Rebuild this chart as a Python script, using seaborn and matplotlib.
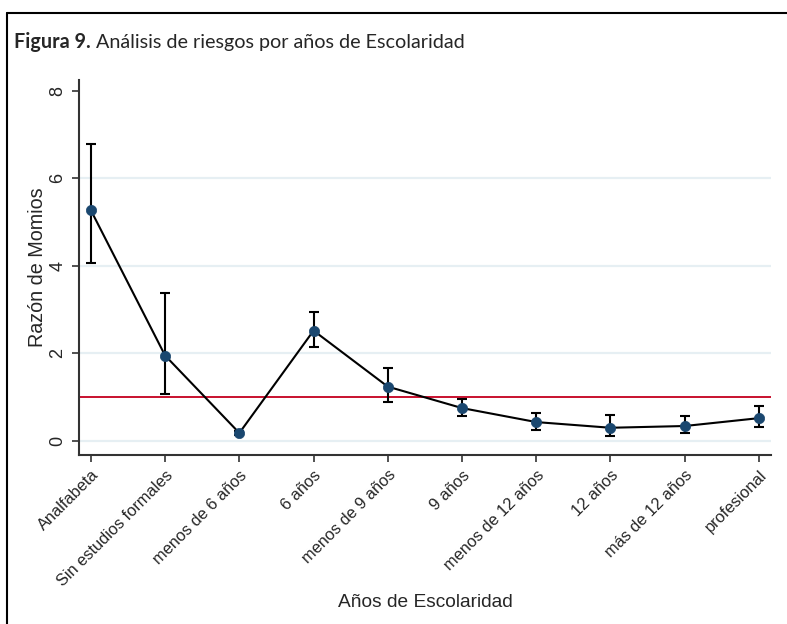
import matplotlib
matplotlib.use('Agg')
import matplotlib.pyplot as plt
import pandas as pd
import seaborn as sns
from matplotlib.lines import Line2D

categorias = ['Analfabeta', 'Sin estudios formales', 'menos de 6 años', '6 años',
              'menos de 9 años', '9 años', 'menos de 12 años', '12 años',
              'más de 12 años', 'profesional']
razon = [5.27, 1.95, 0.18, 2.52, 1.24, 0.75, 0.43, 0.30, 0.34, 0.52]
lim_inf = [4.07, 1.07, 0.13, 2.14, 0.89, 0.57, 0.26, 0.12, 0.17, 0.31]
lim_sup = [6.79, 3.38, 0.23, 2.95, 1.67, 0.96, 0.64, 0.60, 0.57, 0.80]
y_ticks = [0, 2, 4, 6, 8]

df = pd.DataFrame({'cat': categorias, 'or': razon, 'lo': lim_inf, 'hi': lim_sup})
df['pos'] = range(len(df))

sns.set_style('white')
plt.rcParams['font.family'] = ['Liberation Sans', 'DejaVu Sans']

fig = plt.figure(figsize=(7.87, 6.24), dpi=100)
ax = fig.add_axes([0.1004, 0.271, 0.879, 0.601])

for v in [0, 2, 4, 6]:
    ax.axhline(v, color='#e6eff3', lw=1.6, zorder=0)
ax.axhline(1, color='#c8102e', lw=1.4, zorder=1)

ax.errorbar(df['pos'], df['or'],
            yerr=[df['or'] - df['lo'], df['hi'] - df['or']],
            fmt='none', ecolor='black', elinewidth=1.5, capsize=3.8, capthick=1.5, zorder=2)
sns.lineplot(data=df, x='pos', y='or', color='black', lw=1.5, ax=ax, zorder=3)
sns.scatterplot(data=df, x='pos', y='or', color='#1a476f', s=55, edgecolor='#1a476f',
                linewidth=0.5, ax=ax, zorder=4)

ax.set_xlim(-0.16, 9.16)
ax.set_ylim(-0.32, 8.25)
ax.set_xticks(df['pos'])
ax.set_xticklabels(categorias, rotation=45, ha='right', rotation_mode='anchor', fontsize=11.8)
ax.set_yticks(y_ticks)
ax.set_yticklabels([str(t) for t in y_ticks], rotation=90, va='center', fontsize=13)
ax.tick_params(axis='both', direction='out', length=5, width=1.2, color='#333333',
               bottom=True, left=True, pad=4)
for s in ['top', 'right']:
    ax.spines[s].set_visible(False)
for s in ['left', 'bottom']:
    ax.spines[s].set_color('#333333')
    ax.spines[s].set_linewidth(1.5)

ax.set_xlabel('Años de Escolaridad', fontsize=13.8, labelpad=4)
ax.set_ylabel('Razón de Momios', fontsize=14.2, labelpad=2)

# marco exterior
fig.add_artist(Line2D([0.009, 0.009], [0.0, 0.979], color='black', lw=1.5, transform=fig.transFigure))
fig.add_artist(Line2D([0.009, 1.0], [0.979, 0.979], color='black', lw=1.5, transform=fig.transFigure))

t1 = fig.text(0.018, 0.932, 'Figura 9.', fontsize=14.2, fontweight='bold',
              family=['Lato', 'DejaVu Sans'], va='center')
fig.canvas.draw()
bb = t1.get_window_extent().transformed(fig.transFigure.inverted())
fig.text(bb.x1 + 0.006, 0.932, 'Análisis de riesgos por años de Escolaridad', fontsize=14.2,
         family=['Lato', 'DejaVu Sans'], va='center')

fig.savefig('out.png', dpi=100)
